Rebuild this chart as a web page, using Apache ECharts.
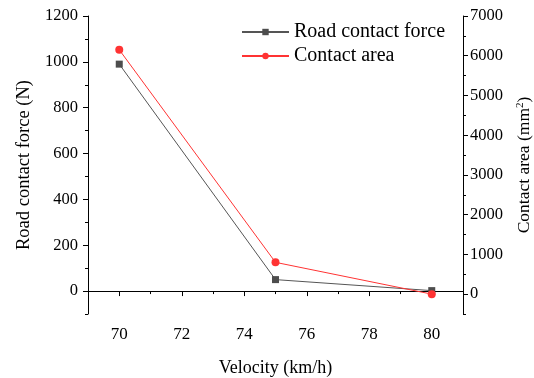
<!DOCTYPE html>
<html lang="en">
<head>
    <meta charset="UTF-8">
    <title>Road contact force and contact area vs velocity</title>
    <script src="https://cdn.jsdelivr.net/npm/echarts@6/dist/echarts.min.js"></script>
    <style>
        html, body { margin: 0; padding: 0; background: #fff; }
    </style>
</head>
<body>
    <div id="chart" style="width:534px; height:378px;"></div>
    <script>
        // data
        var velocity = [70, 75, 80];
        var roadForce = [990, 50, 2];
        var contactArea = [6150, 800, 0];

        // tick labels
        var xLabels = [70, 72, 74, 76, 78, 80];
        var xMinor = [69, 71, 73, 75, 77, 79, 81];
        var forceLabels = [0, 200, 400, 600, 800, 1000, 1200];
        var forceMinor = [-100, 100, 300, 500, 700, 900, 1100];
        var areaLabels = [0, 1000, 2000, 3000, 4000, 5000, 6000, 7000];
        var areaMinor = [-500, 500, 1500, 2500, 3500, 4500, 5500, 6500];

        var font = '"Liberation Serif", "Times New Roman", serif';
        function txt(size) {
            return { color: '#000', fontFamily: font, fontSize: size };
        }
        // plain numbers, no thousands separator
        function plain(v) { return String(v); }

        function pairs(xs, ys) {
            return xs.map(function (x, i) { return [x, ys[i]]; });
        }

        // overlay axis that only draws the short minor ticks
        function minorAxis(base, vals) {
            return Object.assign({}, base, {
                name: '',
                axisLine: { show: false },
                axisLabel: { show: false },
                axisTick: { show: true, length: 3, customValues: vals, lineStyle: { color: '#000' } },
                splitLine: { show: false }
            });
        }

        var chart = echarts.init(document.getElementById('chart'));

        var xBase = { type: 'value', position: 'bottom', min: 69, max: 81, interval: 1 };
        var yLeft = { type: 'value', position: 'left', min: -100, max: 1200, interval: 100 };
        var yRight = { type: 'value', position: 'right', min: -500, max: 7000, interval: 500 };

        chart.setOption({
            animation: false,
            grid: { left: 88, right: 71, top: 16, bottom: 64, outerBoundsMode: 'none' },
            legend: {
                orient: 'vertical',
                left: 236,
                top: 17,
                itemWidth: 47,
                itemHeight: 8,
                itemGap: 4,
                textStyle: txt(20),
                data: ['Road contact force', 'Contact area']
            },
            xAxis: [
                Object.assign({}, xBase, {
                    name: 'Velocity (km/h)',
                    nameLocation: 'middle',
                    nameGap: 45,
                    nameTextStyle: txt(18),
                    axisLine: { show: true, lineStyle: { color: '#000', width: 1 } },
                    axisTick: { show: true, length: 5, customValues: xLabels, lineStyle: { color: '#000' } },
                    axisLabel: Object.assign({ customValues: xLabels, margin: 12, formatter: plain }, txt(17)),
                    splitLine: { show: false }
                }),
                minorAxis(xBase, xMinor)
            ],
            yAxis: [
                Object.assign({}, yLeft, {
                    name: 'Road contact force (N)',
                    nameLocation: 'middle',
                    nameRotate: 90,
                    nameGap: 53,
                    nameTextStyle: txt(18.5),
                    axisLine: { show: true, lineStyle: { color: '#000', width: 1 } },
                    axisTick: { show: true, length: 5, customValues: forceLabels, lineStyle: { color: '#000' } },
                    axisLabel: Object.assign({ customValues: forceLabels, margin: 10, formatter: plain }, txt(16.5)),
                    splitLine: { show: false }
                }),
                minorAxis(yLeft, forceMinor),
                Object.assign({}, yRight, {
                    name: 'Contact area (mm{sup|2})',
                    nameLocation: 'middle',
                    nameRotate: 90,
                    nameGap: 52,
                    nameTextStyle: Object.assign(txt(17.5), {
                        rich: {
                            sup: { fontFamily: font, fontSize: 11, color: '#000', verticalAlign: 'top', padding: [0, 0, 8, 0] }
                        }
                    }),
                    axisLine: { show: true, lineStyle: { color: '#000', width: 1 } },
                    axisTick: { show: true, length: 5, customValues: areaLabels, lineStyle: { color: '#000' } },
                    axisLabel: Object.assign({ customValues: areaLabels, margin: 7, formatter: plain }, txt(16.5)),
                    splitLine: { show: false }
                }),
                minorAxis(yRight, areaMinor)
            ],
            series: [
                {
                    name: 'Road contact force',
                    type: 'line',
                    xAxisIndex: 0,
                    yAxisIndex: 0,
                    symbol: 'rect',
                    symbolSize: 7,
                    itemStyle: { color: '#4d4d4d' },
                    lineStyle: { color: '#555', width: 1 },
                    data: pairs(velocity, roadForce)
                },
                {
                    name: 'Contact area',
                    type: 'line',
                    xAxisIndex: 0,
                    yAxisIndex: 2,
                    symbol: 'circle',
                    symbolSize: 8,
                    itemStyle: { color: '#ff3333' },
                    lineStyle: { color: '#ff3333', width: 1 },
                    data: pairs(velocity, contactArea)
                }
            ]
        });
    </script>
</body>
</html>
